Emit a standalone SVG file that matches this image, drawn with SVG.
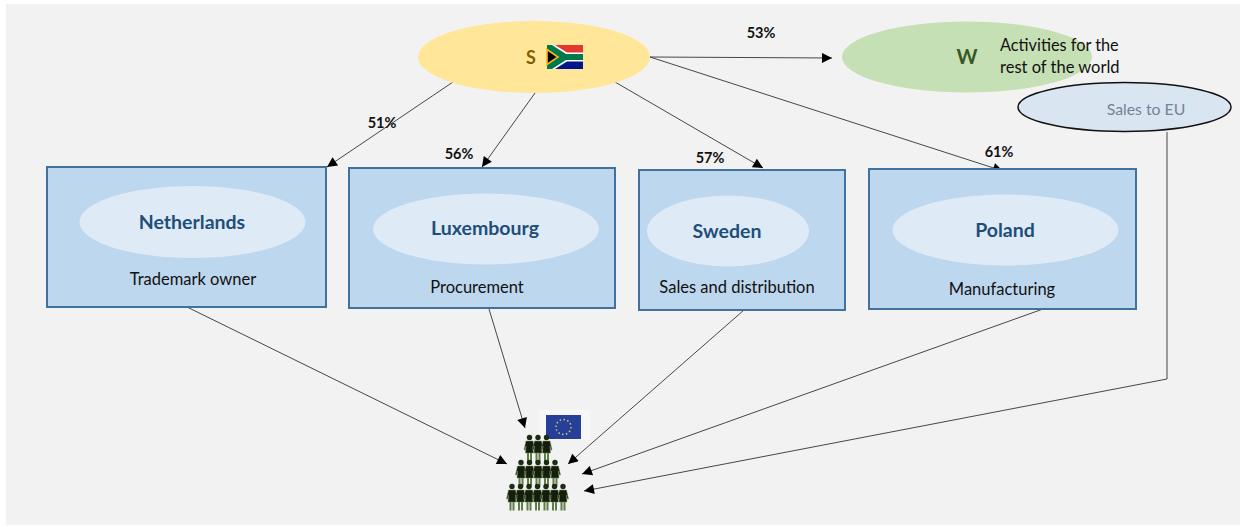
<svg xmlns="http://www.w3.org/2000/svg" width="1243" height="527" viewBox="0 0 1243 527">
<style>
text{font-family:"Lato","Open Sans",sans-serif;}
.box{fill:#bdd7ee;stroke:#41719c;stroke-width:2;}
.oval{fill:#deebf7;}
.name{font-size:19.500px;font-weight:700;fill:#1f4e79;text-anchor:middle;}
.sub{font-size:16.500px;fill:#111;text-anchor:middle;}
.pct{font-size:14.500px;font-weight:700;fill:#111;text-anchor:middle;}
.c{fill:none;stroke:#333;stroke-width:.9;}
</style>
<defs>
<marker id="a" viewBox="0 0 10 10" refX="10" refY="5" markerWidth="12" markerHeight="10" markerUnits="userSpaceOnUse" orient="auto"><path d="M0 0L10 5L0 10Z" fill="#000"/></marker>
<g id="p"><circle cx="0" cy="-9.500" r="2.700" fill="#1c2b14"/><path d="M-1.500 3V14.500M1.500 3V14.500" fill="none" stroke="#5f7d48" stroke-width="2"/><path d="M-3.500-6H3.500L5.500 3H4.400L3.400-1 4 6H-4L-3.400-1-4.400 3H-5.500Z" fill="#141d0e" stroke="#6e8f55" stroke-width=".5"/></g>
</defs>
<rect width="1243" height="527" fill="#fff"/>
<rect x="6" y="4" width="1234" height="521" fill="#f2f2f2"/>
<g id="connectors">
<path class="c" d="M453 82L327 167" marker-end="url(#a)"/>
<path class="c" d="M535 93L482 167" marker-end="url(#a)"/>
<path class="c" d="M615 82L763 168" marker-end="url(#a)"/>
<path class="c" d="M650 57L1003 171" marker-end="url(#a)"/>
<path class="c" d="M650 57L832 58" marker-end="url(#a)"/>
<path class="c" d="M187 307L507 464" marker-end="url(#a)"/>
<path class="c" d="M489 309L525 428" marker-end="url(#a)"/>
<path class="c" d="M744 310L568 464" marker-end="url(#a)"/>
<path class="c" d="M1043 309L582 474" marker-end="url(#a)"/>
<path class="c" d="M1167 132V379"/>
<path class="c" d="M1167 379L584 491" marker-end="url(#a)"/>
</g>
<g id="node-s">
<ellipse cx="534" cy="57" rx="116" ry="36" fill="#ffe699"/>
<text x="531" y="64" font-size="18" font-weight="700" fill="#7f6000" text-anchor="middle">S</text>
<g id="za-flag">
<rect x="547" y="45" width="36" height="24" fill="#fff"/>
<path d="M555 45H583V52.500H567Z" fill="#e2382f"/>
<path d="M555 69H583V61.500H567Z" fill="#00148c"/>
<path d="M547 45H552L566 54H583V60H566L552 69H547Z" fill="#007a4d"/>
<path d="M547 49.500L558 57L547 64.500Z" fill="#000" stroke="#ffb612" stroke-width="1.600"/>
</g>
</g>
<g id="node-w">
<ellipse cx="967" cy="57" rx="125" ry="35.500" fill="#c5e0b4"/>
<text x="967" y="64" font-size="20" font-weight="700" fill="#385723" text-anchor="middle">W</text>
<text x="1000" y="51" font-size="16.300" fill="#111">Activities for the</text>
<text x="1000" y="73" font-size="16.500" fill="#111">rest of the world</text>
</g>
<g id="node-sales">
<ellipse cx="1124.500" cy="107" rx="106.500" ry="24.500" fill="#dae5f2" stroke="#111" stroke-width="1.500"/>
<text x="1146" y="115" font-size="15.800" fill="#768196" text-anchor="middle">Sales to EU</text>
</g>
<g id="node-netherlands">
<rect class="box" x="47" y="167" width="279" height="140"/>
<ellipse class="oval" cx="192.500" cy="222" rx="113" ry="36"/>
<text class="name" x="192" y="229">Netherlands</text>
<text class="sub" x="193" y="285">Trademark owner</text>
</g>
<g id="node-luxembourg">
<rect class="box" x="349" y="168" width="266" height="140"/>
<ellipse class="oval" cx="486" cy="229" rx="113" ry="35.500"/>
<text class="name" x="485" y="235">Luxembourg</text>
<text class="sub" x="477" y="293">Procurement</text>
</g>
<g id="node-sweden">
<rect class="box" x="639" y="170" width="206" height="140"/>
<ellipse class="oval" cx="728" cy="231" rx="81" ry="35.500"/>
<text class="name" x="727" y="238">Sweden</text>
<text class="sub" x="737" y="293">Sales and distribution</text>
</g>
<g id="node-poland">
<rect class="box" x="869" y="169" width="267" height="140"/>
<ellipse class="oval" cx="1005.500" cy="230" rx="113" ry="35.500"/>
<text class="name" x="1005" y="237">Poland</text>
<text class="sub" x="1002" y="295">Manufacturing</text>
</g>
<g id="edge-labels">
<text class="pct" x="761" y="38">53%</text>
<text class="pct" x="382" y="128">51%</text>
<text class="pct" x="459" y="159">56%</text>
<text class="pct" x="710" y="163">57%</text>
<text class="pct" x="999" y="157">61%</text>
</g>
<g id="node-eu">
<rect x="539" y="410" width="51" height="30" fill="#f7f7f7"/>
<rect x="546" y="415" width="35" height="24" fill="#26409a"/>
<circle cx="563.500" cy="427" r="7.500" fill="none" stroke="#d8c36a" stroke-width="1.500" stroke-dasharray="1.500 2.400"/>
<use href="#p" x="529.500" y="447"/><use href="#p" x="538" y="447"/><use href="#p" x="546.500" y="447"/>
<use href="#p" x="521" y="472"/><use href="#p" x="529.500" y="472"/><use href="#p" x="538" y="472"/><use href="#p" x="546.500" y="472"/><use href="#p" x="555" y="472"/>
<use href="#p" x="512" y="496"/><use href="#p" x="520.500" y="496"/><use href="#p" x="529" y="496"/><use href="#p" x="537.500" y="496"/><use href="#p" x="546" y="496"/><use href="#p" x="554.500" y="496"/><use href="#p" x="563" y="496"/>
</g>
</svg>
